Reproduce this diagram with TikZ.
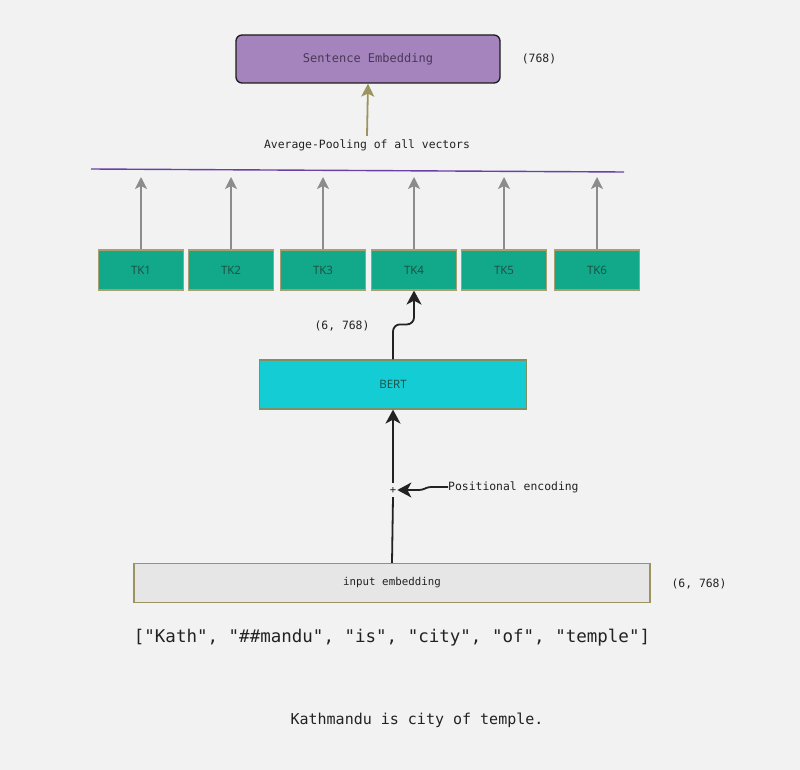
\documentclass[tikz,border=0pt]{standalone}
\usepackage{fontspec}
\setmonofont{DejaVu Sans Mono}
\setsansfont{Open Sans}
\renewcommand\familydefault{\ttdefault}
\usetikzlibrary{arrows.meta}
\definecolor{bg}{HTML}{F2F2F2}
\definecolor{sefill}{HTML}{A584BE}
\definecolor{setext}{HTML}{4A3858}
\definecolor{olive}{HTML}{9C9460}
\definecolor{poolline}{HTML}{6A3FA8}
\definecolor{tkfill}{HTML}{12A88A}
\definecolor{tktext}{HTML}{1E4D42}
\definecolor{bertfill}{HTML}{14CCD4}
\definecolor{inpfill}{HTML}{E6E6E6}
\definecolor{ink}{HTML}{222222}
\begin{document}
\begin{tikzpicture}[x=1pt,y=-1pt,
  txt/.style={font=\ttfamily\fontsize{11.4}{13}\selectfont,text=ink},
  se node/.style={draw=ink!80!black,fill=sefill,rounded corners=6pt,line width=1.3pt,
    minimum width=264pt,minimum height=48pt,text=setext,font=\ttfamily\fontsize{12}{14}\selectfont},
  tk node/.style={draw=olive!90,fill=tkfill,line width=1.2pt,minimum width=85pt,
    minimum height=40pt,text=tktext,font=\sffamily\fontsize{11.5}{13}\selectfont},
  black arrow/.style={draw=ink,line width=1.8pt,-{Stealth[length=14pt,width=15pt,inset=4pt]}}]

  \useasboundingbox[fill=bg] (0,0) rectangle (800,770);

  \node[se node] (se) at (368,59) {Sentence Embedding};
  \node[txt] (sedim) at (539,59) {(768)};
  \node[txt] (pool) at (367,145) {Average-Pooling of all vectors};
  \draw[olive,line width=1.8pt,-{Stealth[length=13pt,width=13pt,inset=3pt]}] (pool.north) -- (se.south);

  \coordinate (pl) at (91,169);
  \coordinate (pr) at (624,172);
  \draw[poolline,line width=1.4pt] (pl) -- (pr);

  \foreach \x/\n in {141/1,231/2,323/3,414/4,504/5,597/6}{
    \node[tk node] (tk\n) at (\x,270) {TK\n};
    \coordinate (up\n) at (\x,177);
    \draw[gray!90,line width=1.6pt,-{Stealth[length=12pt,width=12pt,inset=3pt]}] (tk\n.north) -- (up\n);
  }

  \node[draw=olive!80!teal,fill=bertfill,line width=1.2pt,minimum width=267pt,
    minimum height=49pt,text=tktext,font=\sffamily\fontsize{11.5}{13}\selectfont] (bert) at (393,384.5) {BERT};
  \draw[black arrow,rounded corners=7pt] (bert.north) -- ++(0,-35) -| (tk4.south);
  \node[txt] (bertdim) at (342,326) {(6, 768)};

  \node[draw=olive,fill=inpfill,line width=1.3pt,minimum width=516pt,minimum height=39pt,
    font=\ttfamily\fontsize{10.8}{12}\selectfont,text=ink] (inp) at (392,583) {input embedding};
  \node[txt] (inpdim) at (699,584) {(6, 768)};

  \node[font=\ttfamily\fontsize{10.5}{11}\selectfont,text=ink,inner xsep=1pt,inner ysep=4pt] (plus) at (393,490) {+};
  \draw[ink,line width=1.8pt] (inp.north) -- (plus.south);
  \draw[black arrow] (plus.north) -- (bert.south);

  \node[txt,anchor=west,inner sep=0pt] (pe) at (448,487) {Positional encoding};
  \draw[black arrow,rounded corners=3pt] (pe.west) -- ++(-20,0) -- ++(-6,3) -- (plus.east);

  \node[font=\ttfamily\fontsize{17.5}{21}\selectfont,text=ink] (tokens) at (392,638)
    {["Kath", "\#\#mandu", "is", "city", "of", "temple"]};
  \node[font=\ttfamily\fontsize{15}{18}\selectfont,text=ink] (sent) at (417,720)
    {Kathmandu is city of temple.};
\end{tikzpicture}
\end{document}
